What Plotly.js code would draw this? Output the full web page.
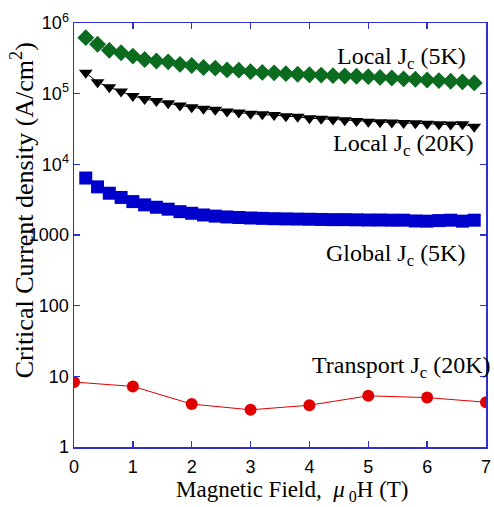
<!DOCTYPE html>
<html>
<head>
<meta charset="utf-8">
<script src="https://cdn.plot.ly/plotly-3.0.1.min.js"></script>
<style>html,body{margin:0;padding:0;background:#fff;}#chart{width:494px;height:507px;}</style>
</head>
<body>
<div id="chart"></div>
<script>
const fieldLocal = [0.2,0.4,0.6,0.8,1.0,1.2,1.4,1.6,1.8,2.0,2.2,2.4,2.6,2.8,3.0,3.2,3.4,3.6,3.8,4.0,4.2,4.4,4.6,4.8,5.0,5.2,5.4,5.6,5.8,6.0,6.2,6.4,6.6,6.8];
const localJc5K = [6.2e5,5.0e5,4.1e5,3.8e5,3.4e5,3.05e5,2.9e5,2.82e5,2.6e5,2.5e5,2.35e5,2.3e5,2.17e5,2.15e5,2.05e5,2.0e5,1.97e5,1.92e5,1.88e5,1.85e5,1.83e5,1.8e5,1.78e5,1.76e5,1.74e5,1.7e5,1.67e5,1.62e5,1.6e5,1.56e5,1.53e5,1.5e5,1.47e5,1.42e5];
const localJc20K = [1.98e5,1.45e5,1.23e5,1.07e5,9.3e4,8.4e4,7.9e4,7.3e4,6.8e4,6.4e4,6.1e4,5.9e4,5.6e4,5.4e4,5.2e4,5.1e4,5.0e4,4.8e4,4.7e4,4.5e4,4.4e4,4.3e4,4.2e4,4.1e4,4.0e4,3.95e4,3.9e4,3.85e4,3.8e4,3.75e4,3.7e4,3.65e4,3.7e4,3.4e4];
const globalJc5K = [6.4e3,4.8e3,3.9e3,3.4e3,2.97e3,2.67e3,2.47e3,2.32e3,2.14e3,2.03e3,1.92e3,1.85e3,1.8e3,1.77e3,1.74e3,1.72e3,1.7e3,1.69e3,1.68e3,1.67e3,1.66e3,1.65e3,1.65e3,1.64e3,1.63e3,1.63e3,1.62e3,1.62e3,1.58e3,1.57e3,1.6e3,1.62e3,1.57e3,1.62e3];
const fieldTransport = [0,1,2,3,4,5,6,7];
const transportJc20K = [8.3,7.2,4.05,3.36,3.9,5.3,5.0,4.3];
const yTickVals = [1,10,100,1000,1e4,1e5,1e6];
const yTickText = ["1","10","100","1000","10<sup>4</sup>","10<sup>5</sup>","10<sup>6</sup>"];
const xTickVals = [0,1,2,3,4,5,6,7];
const seriesLabels = ["Local J<sub>c</sub> (5K)","Local J<sub>c</sub> (20K)","Global J<sub>c</sub> (5K)","Transport J<sub>c</sub> (20K)"];

const axisBlue = '#2e2ed2';
const serif = 'Liberation Serif, Times New Roman, serif';
const narrow = 'Liberation Sans Narrow, Arial Narrow, Liberation Sans, sans-serif';

const traces = [
  {x: fieldLocal, y: localJc5K, name: seriesLabels[0], mode: 'lines+markers',
   line: {color: '#0b6b1f', width: 1}, marker: {symbol: 'diamond', size: 13, color: '#0b6b1f'}},
  {x: fieldLocal, y: localJc20K, name: seriesLabels[1], mode: 'lines+markers',
   line: {color: '#000000', width: 1}, marker: {symbol: 'triangle-down', size: 12, color: '#000000'}},
  {x: fieldLocal, y: globalJc5K, name: seriesLabels[2], mode: 'lines+markers',
   line: {color: '#0000cc', width: 1}, marker: {symbol: 'square', size: 13, color: '#0000cc'}},
  {x: fieldTransport, y: transportJc20K, name: seriesLabels[3], mode: 'lines+markers',
   line: {color: '#e00000', width: 1}, marker: {symbol: 'circle', size: 12, color: '#e00000'}}
];

const annFont = {family: serif, size: 24, color: '#000'};
const layout = {
  width: 494, height: 507,
  margin: {l: 74, r: 8, t: 23, b: 60},
  paper_bgcolor: '#fff', plot_bgcolor: '#fff',
  showlegend: false,
  xaxis: {
    range: [0, 7], tickvals: xTickVals, ticks: 'inside', ticklen: 6, tickwidth: 1.5, tickcolor: axisBlue,
    showline: true, linecolor: axisBlue, linewidth: 1.5, mirror: 'ticks', showgrid: false, zeroline: false,
    ticklabelstandoff: 3,
    tickfont: {family: narrow, size: 18, color: '#000'}
  },
  yaxis: {
    type: 'log', range: [0, 6], tickvals: yTickVals, ticktext: yTickText, ticks: 'inside', ticklen: 6, tickwidth: 1.5,
    tickcolor: axisBlue, showline: true, linecolor: axisBlue, linewidth: 1.5, mirror: 'ticks', showgrid: false, zeroline: false,
    tickfont: {family: narrow, size: 18, color: '#000'}
  },
  annotations: [
    {xref: 'paper', yref: 'paper', x: 0.956, y: 0.917, xanchor: 'right', yanchor: 'middle', text: seriesLabels[0], showarrow: false, font: annFont},
    {xref: 'paper', yref: 'paper', x: 0.976, y: 0.712, xanchor: 'right', yanchor: 'middle', text: seriesLabels[1], showarrow: false, font: annFont},
    {xref: 'paper', yref: 'paper', x: 0.954, y: 0.453, xanchor: 'right', yanchor: 'middle', text: seriesLabels[2], showarrow: false, font: annFont},
    {xref: 'paper', yref: 'paper', x: 1.018, y: 0.189, xanchor: 'right', yanchor: 'middle', text: seriesLabels[3], showarrow: false, font: annFont},
    {xref: 'paper', yref: 'paper', x: -0.125, y: 0.557, xanchor: 'center', yanchor: 'middle', textangle: -90,
     text: 'Critical Current density (A/cm<sup>2</sup>)', showarrow: false, font: {family: serif, size: 26, color: '#000'}},
    {xref: 'paper', yref: 'paper', x: 0.53, y: -0.104, xanchor: 'center', yanchor: 'middle',
     text: 'Magnetic Field,  <i>μ</i><sub> 0</sub>H (T)', showarrow: false, font: {family: serif, size: 23, color: '#000'}}
  ]
};

Plotly.newPlot('chart', traces, layout, {displayModeBar: false, staticPlot: true});
</script>
</body>
</html>
